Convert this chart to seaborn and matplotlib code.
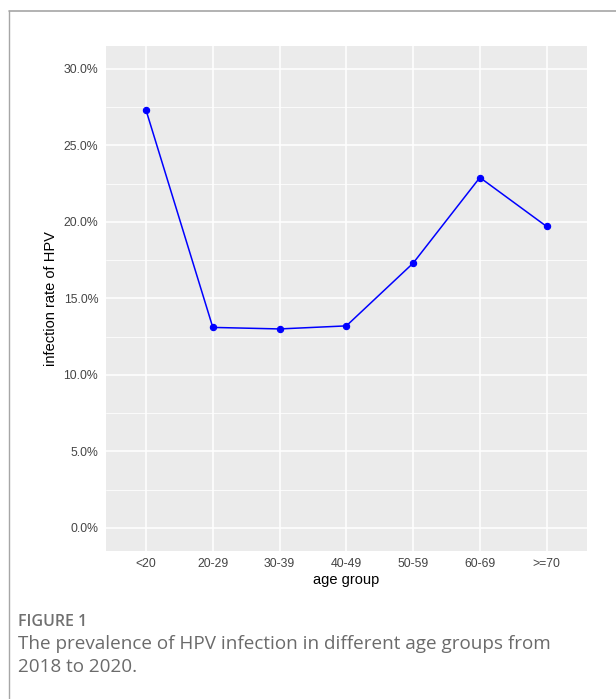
import numpy as np
import pandas as pd
import matplotlib
matplotlib.use("Agg")
import matplotlib.pyplot as plt
from matplotlib.lines import Line2D
from matplotlib.ticker import FuncFormatter, MultipleLocator
import seaborn as sns

# data
age_groups = ["<20", "20-29", "30-39", "40-49", "50-59", "60-69", ">=70"]
infection_rate = [27.3, 13.1, 13.0, 13.2, 17.3, 22.9, 19.7]  # percent
y_ticks = [0, 5, 10, 15, 20, 25, 30]

df = pd.DataFrame({"age group": age_groups, "rate": infection_rate})

sns.set_theme(style="darkgrid", rc={
    "axes.facecolor": "#EBEBEB",
    "grid.color": "white",
})
plt.rcParams["font.family"] = ["Liberation Sans", "DejaVu Sans"]

fig = plt.figure(figsize=(6.16, 6.99), dpi=100)
ax = fig.add_axes([106 / 616, 1 - 550.7 / 699, (586.7 - 106) / 616, (550.7 - 46) / 699])

sns.pointplot(data=df, x="age group", y="rate", order=age_groups, color="blue",
              markers="o", markersize=4.5, linewidth=1.1, ax=ax)

# ggplot style expansion of the scales
ax.set_xlim(-0.6, len(age_groups) - 0.4)
ax.set_ylim(-1.5, 31.5)
ax.set_yticks(y_ticks)
ax.yaxis.set_minor_locator(MultipleLocator(2.5))
ax.yaxis.set_major_formatter(FuncFormatter(lambda v, p: f"{v:.1f}%"))

ax.grid(True, which="major", color="white", linewidth=1.1)
ax.yaxis.grid(True, which="minor", color="white", linewidth=0.55)
ax.xaxis.grid(True, which="major", color="white", linewidth=1.1)
ax.set_axisbelow(True)
for s in ax.spines.values():
    s.set_visible(False)

ax.tick_params(axis="both", which="major", length=3.5, width=0.8, color="#333333",
               labelsize=8.8, labelcolor="#444444", pad=2)
ax.tick_params(axis="y", which="minor", length=0)

ax.set_xlabel("age group", fontsize=10.5, color="black", labelpad=2)
ax.set_ylabel("infection rate of HPV", fontsize=10.5, color="black", labelpad=4)

# frame of the figure box
fig.add_artist(Line2D([9 / 616, 1], [1 - 11 / 699, 1 - 11 / 699],
                      transform=fig.transFigure, color="#a6a6a6", linewidth=1.2))
fig.add_artist(Line2D([9 / 616, 9 / 616], [0, 1 - 11 / 699],
                      transform=fig.transFigure, color="#a6a6a6", linewidth=1.0))

# caption
cap_font = ["Open Sans", "DejaVu Sans"]
fig.text(18 / 616, 1 - 626 / 699, "FIGURE 1", fontsize=11.5, color="#707070",
         fontweight="semibold", family=cap_font, va="baseline")
fig.text(18 / 616, 1 - 649 / 699,
         "The prevalence of HPV infection in different age groups from",
         fontsize=13.6, color="#6b6b6b", family=cap_font, va="baseline")
fig.text(18 / 616, 1 - 672 / 699, "2018 to 2020.",
         fontsize=13.6, color="#6b6b6b", family=cap_font, va="baseline")

fig.savefig("out.png", dpi=100, facecolor="white")
